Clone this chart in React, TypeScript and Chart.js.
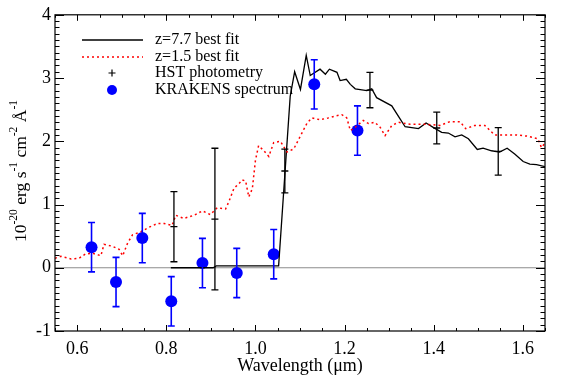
import React, { useEffect, useRef } from "react";
import { Chart, registerables } from "chart.js";

Chart.register(...registerables);

// ---- data ----
const z77Wave = [0.81, 0.905, 0.912, 1.052, 1.078, 1.088, 1.101, 1.114, 1.123, 1.145, 1.157, 1.166, 1.183, 1.19, 1.204, 1.213, 1.224, 1.25, 1.261, 1.272, 1.306, 1.325, 1.336, 1.366, 1.383, 1.399, 1.418, 1.433, 1.448, 1.463, 1.478, 1.498, 1.511, 1.53, 1.548, 1.565, 1.582, 1.601, 1.616, 1.631, 1.65];
const z77Flux = [0.0, 0.0, 0.03, 0.03, 2.71, 3.1, 2.82, 3.36, 3.04, 3.14, 3.06, 3.14, 3.09, 2.96, 2.98, 2.9, 2.83, 2.8, 2.83, 2.69, 2.56, 2.35, 2.23, 2.2, 2.29, 2.22, 2.14, 2.13, 2.07, 2.1, 2.04, 1.87, 1.89, 1.85, 1.83, 1.89, 1.8, 1.68, 1.64, 1.63, 1.6];

const z15Wave = [0.55, 0.563, 0.586, 0.604, 0.619, 0.634, 0.653, 0.66, 0.679, 0.694, 0.702, 0.713, 0.724, 0.743, 0.761, 0.78, 0.795, 0.813, 0.821, 0.839, 0.862, 0.881, 0.899, 0.914, 0.933, 0.94, 0.952, 0.963, 0.97, 0.978, 0.985, 0.993, 1.0, 1.007, 1.019, 1.03, 1.041, 1.056, 1.071, 1.086, 1.097, 1.116, 1.127, 1.145, 1.164, 1.179, 1.194, 1.205, 1.213, 1.224, 1.242, 1.254, 1.268, 1.28, 1.291, 1.306, 1.321, 1.347, 1.38, 1.399, 1.414, 1.436, 1.459, 1.472, 1.492, 1.515, 1.537, 1.556, 1.586, 1.612, 1.634, 1.642, 1.65];
const z15Flux = [0.15, 0.18, 0.14, 0.15, 0.22, 0.23, 0.19, 0.37, 0.34, 0.29, 0.19, 0.39, 0.52, 0.57, 0.64, 0.7, 0.7, 0.67, 0.83, 0.78, 0.83, 0.9, 0.84, 0.95, 0.93, 1.04, 1.26, 1.33, 1.39, 1.37, 1.12, 1.25, 1.7, 1.93, 1.85, 1.76, 1.98, 2.0, 1.83, 1.88, 2.03, 2.29, 2.37, 2.34, 2.37, 2.4, 2.42, 2.37, 2.17, 2.22, 2.33, 2.28, 2.3, 2.22, 2.09, 2.25, 2.3, 2.27, 2.27, 2.26, 2.25, 2.31, 2.31, 2.2, 2.25, 2.25, 2.1, 2.1, 2.1, 2.08, 2.04, 1.9, 1.97];

const hstWave = [0.817, 0.909, 1.066, 1.257, 1.407, 1.545];
const hstFlux = [0.65, 0.77, 1.53, 2.81, 2.21, 1.84];
const hstErr = [0.555, 1.12, 0.345, 0.28, 0.25, 0.375];

const krakWave = [0.632, 0.687, 0.746, 0.811, 0.881, 0.958, 1.041, 1.132, 1.229];
const krakFlux = [0.325, -0.225, 0.47, -0.53, 0.074, -0.083, 0.215, 2.9, 2.17];
const krakErr = [0.39, 0.39, 0.39, 0.39, 0.39, 0.39, 0.39, 0.39, 0.39];

const xTickValues = [0.6, 0.8, 1.0, 1.2, 1.4, 1.6];
const yTickValues = [-1, 0, 1, 2, 3, 4];
const legendLabels = ["z=7.7 best fit", "z=1.5 best fit", "HST photometry", "KRAKENS spectrum"];
const xTitle = "Wavelength (\u03bcm)";
const yTitleParts: [string, boolean][] = [
  ["10", false], ["-20", true], [" erg s", false], ["-1", true],
  [" cm", false], ["-2", true], [" \u00c5", false], ["-1", true],
];

const FONT = "'Liberation Serif', 'DejaVu Serif', serif";
const BLUE = "#0000ff";
const RED = "#ff0000";

const decor = {
  id: "decor",
  beforeDatasetsDraw(chart: any) {
    const { ctx, chartArea: a, scales } = chart;
    const y0 = scales.y.getPixelForValue(0);
    ctx.save();
    ctx.strokeStyle = "#8c8c8c";
    ctx.lineWidth = 1.2;
    ctx.beginPath();
    ctx.moveTo(a.left, y0);
    ctx.lineTo(a.right, y0);
    ctx.stroke();
    ctx.restore();
  },
  afterDatasetsDraw(chart: any) {
    const { ctx, scales } = chart;
    const xs = scales.x, ys = scales.y;
    ctx.save();
    ctx.strokeStyle = "#000";
    ctx.lineWidth = 1.3;
    hstWave.forEach((w, i) => {
      const px = xs.getPixelForValue(w);
      const pt = ys.getPixelForValue(hstFlux[i] + hstErr[i]);
      const pb = ys.getPixelForValue(hstFlux[i] - hstErr[i]);
      const pm = ys.getPixelForValue(hstFlux[i]);
      ctx.beginPath();
      ctx.moveTo(px, pt); ctx.lineTo(px, pb);
      ctx.moveTo(px - 3.5, pt); ctx.lineTo(px + 3.5, pt);
      ctx.moveTo(px - 3.5, pb); ctx.lineTo(px + 3.5, pb);
      ctx.moveTo(px - 3.5, pm); ctx.lineTo(px + 3.5, pm);
      ctx.stroke();
    });
    ctx.strokeStyle = BLUE;
    ctx.lineWidth = 1.6;
    krakWave.forEach((w, i) => {
      const px = xs.getPixelForValue(w);
      const pt = ys.getPixelForValue(krakFlux[i] + krakErr[i]);
      const pb = ys.getPixelForValue(krakFlux[i] - krakErr[i]);
      ctx.beginPath();
      ctx.moveTo(px, pt); ctx.lineTo(px, pb);
      ctx.moveTo(px - 3.5, pt); ctx.lineTo(px + 3.5, pt);
      ctx.moveTo(px - 3.5, pb); ctx.lineTo(px + 3.5, pb);
      ctx.stroke();
    });
    ctx.restore();
  },
  afterDraw(chart: any) {
    const { ctx, chartArea: a, scales } = chart;
    const xs = scales.x, ys = scales.y;
    ctx.save();
    ctx.strokeStyle = "#000";
    ctx.lineWidth = 1.2;
    ctx.strokeRect(a.left, a.top, a.right - a.left, a.bottom - a.top);
    ctx.lineWidth = 1;
    ctx.beginPath();
    for (let k = 11; k <= 33; k++) {
      const v = k * 0.05;
      const px = Math.round(xs.getPixelForValue(v)) + 0.5;
      const major = k % 4 === 0;
      const len = major ? 6 : 3;
      ctx.moveTo(px, a.bottom); ctx.lineTo(px, a.bottom - len);
      ctx.moveTo(px, a.top); ctx.lineTo(px, a.top + len);
    }
    for (let k = -10; k <= 40; k++) {
      const v = k / 10;
      const py = Math.round(ys.getPixelForValue(v)) + 0.5;
      const major = k % 10 === 0;
      const len = major ? 9 : 4.5;
      ctx.moveTo(a.left, py); ctx.lineTo(a.left + len, py);
      ctx.moveTo(a.right, py); ctx.lineTo(a.right - len, py);
    }
    ctx.stroke();

    // legend
    const rows = [40, 57, 73, 90];
    const lx0 = 82, lx1 = 143, lsym = 112, ltext = 155;
    ctx.strokeStyle = "#000";
    ctx.lineWidth = 1.3;
    ctx.beginPath(); ctx.moveTo(lx0, rows[0]); ctx.lineTo(lx1, rows[0]); ctx.stroke();
    ctx.strokeStyle = RED;
    ctx.lineWidth = 1.5;
    ctx.setLineDash([2, 3]);
    ctx.beginPath(); ctx.moveTo(lx0, rows[1]); ctx.lineTo(lx1, rows[1]); ctx.stroke();
    ctx.setLineDash([]);
    ctx.strokeStyle = "#000";
    ctx.lineWidth = 1.2;
    ctx.beginPath();
    ctx.moveTo(lsym - 3.5, rows[2]); ctx.lineTo(lsym + 3.5, rows[2]);
    ctx.moveTo(lsym, rows[2] - 3.5); ctx.lineTo(lsym, rows[2] + 3.5);
    ctx.stroke();
    ctx.fillStyle = BLUE;
    ctx.beginPath(); ctx.arc(lsym, rows[3], 5, 0, Math.PI * 2); ctx.fill();
    ctx.fillStyle = "#000";
    ctx.font = `16px ${FONT}`;
    ctx.textAlign = "left";
    ctx.textBaseline = "middle";
    legendLabels.forEach((t, i) => ctx.fillText(t, ltext, rows[i]));

    // x title
    ctx.font = `18px ${FONT}`;
    ctx.textAlign = "center";
    ctx.textBaseline = "middle";
    ctx.fillText(xTitle, (a.left + a.right) / 2, 366);

    // y title with superscripts
    const mainFont = `17.5px ${FONT}`;
    const supFont = `11.5px ${FONT}`;
    let total = 0;
    yTitleParts.forEach(([t, sup]) => {
      ctx.font = sup ? supFont : mainFont;
      total += ctx.measureText(t).width;
    });
    ctx.translate(21, 171);
    ctx.rotate(-Math.PI / 2);
    ctx.textAlign = "left";
    ctx.textBaseline = "middle";
    let cx = -total / 2;
    yTitleParts.forEach(([t, sup]) => {
      ctx.font = sup ? supFont : mainFont;
      ctx.fillText(t, cx, sup ? -7 : 0);
      cx += ctx.measureText(t).width;
    });
    ctx.restore();
  },
};

export default function App() {
  const ref = useRef<HTMLCanvasElement | null>(null);
  useEffect(() => {
    if (!ref.current) return;
    Chart.defaults.font.family = FONT;
    Chart.defaults.color = "#000";
    const chart = new Chart(ref.current, {
      type: "scatter",
      data: {
        datasets: [
          {
            label: legendLabels[1],
            data: z15Wave.map((x, i) => ({ x, y: z15Flux[i] })),
            showLine: true,
            borderColor: RED,
            borderWidth: 1.5,
            borderDash: [2, 3],
            pointRadius: 0,
            tension: 0,
          },
          {
            label: legendLabels[0],
            data: z77Wave.map((x, i) => ({ x, y: z77Flux[i] })),
            showLine: true,
            borderColor: "#000",
            borderWidth: 1.3,
            pointRadius: 0,
            tension: 0,
          },
          {
            label: legendLabels[3],
            data: krakWave.map((x, i) => ({ x, y: krakFlux[i] })),
            showLine: false,
            pointRadius: 6,
            pointBackgroundColor: BLUE,
            pointBorderColor: BLUE,
            pointBorderWidth: 0,
          },
        ],
      },
      options: {
        animation: false,
        responsive: false,
        devicePixelRatio: 1,
        layout: { padding: { top: 12, right: 20, left: 0, bottom: 0 } },
        plugins: { legend: { display: false }, tooltip: { enabled: false } },
        scales: {
          x: {
            type: "linear",
            min: 0.55,
            max: 1.65,
            grid: { display: false, drawTicks: false },
            border: { display: false },
            afterBuildTicks: (s: any) => { s.ticks = xTickValues.map((v) => ({ value: v })); },
            afterFit: (s: any) => { s.height = 52; },
            ticks: {
              padding: 7,
              font: { size: 18 },
              color: "#000",
              maxRotation: 0,
              callback: (v: any) => Number(v).toFixed(1),
            },
          },
          y: {
            type: "linear",
            min: -1,
            max: 4,
            grid: { display: false, drawTicks: false },
            border: { display: false },
            afterBuildTicks: (s: any) => { s.ticks = yTickValues.map((v) => ({ value: v })); },
            afterFit: (s: any) => { s.width = 55; },
            ticks: {
              padding: 4,
              font: { size: 18 },
              color: "#000",
              callback: (v: any) => String(v),
            },
          },
        },
      },
      plugins: [decor],
    });
    return () => chart.destroy();
  }, []);
  return (
    <div style={{ position: "fixed", left: 0, top: 0, width: 565, height: 383, background: "#fff" }}>
      <canvas ref={ref} width={565} height={383} style={{ display: "block" }} />
    </div>
  );
}
